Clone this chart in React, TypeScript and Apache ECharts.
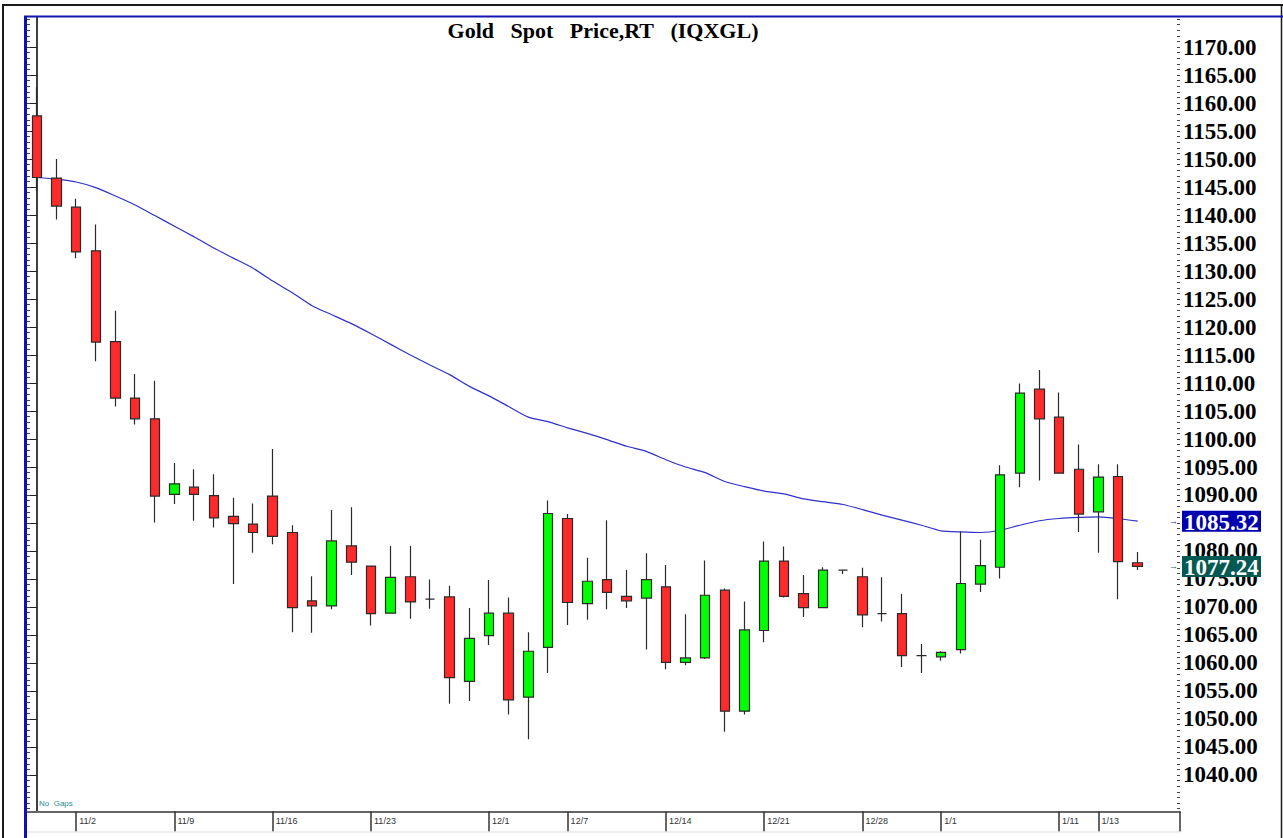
import React, { useEffect, useRef } from "react";
import * as echarts from "echarts";

// Trading days (no gaps), 2015-10-29 .. 2016-01-15
const dates = [
  "10/29", "10/30", "11/2", "11/3", "11/4", "11/5", "11/6", "11/9", "11/10", "11/11",
  "11/12", "11/13", "11/16", "11/17", "11/18", "11/19", "11/20", "11/23", "11/24", "11/25",
  "11/26", "11/27", "11/30", "12/1", "12/2", "12/3", "12/4", "12/7", "12/8", "12/9",
  "12/10", "12/11", "12/14", "12/15", "12/16", "12/17", "12/18", "12/21", "12/22", "12/23",
  "12/24", "12/25", "12/28", "12/29", "12/30", "12/31", "1/1", "1/4", "1/5", "1/6",
  "1/7", "1/8", "1/11", "1/12", "1/13", "1/14", "1/15",
];

const opens = [
  1157.7, 1146.6, 1141.4, 1133.6, 1117.4, 1107.3, 1103.6, 1090.1, 1091.4, 1089.9,
  1086.2, 1084.8, 1089.8, 1083.3, 1071.1, 1070.2, 1080.9, 1077.3, 1068.9, 1075.4,
  1071.4, 1071.8, 1056.7, 1064.9, 1068.9, 1053.9, 1062.8, 1085.8, 1070.6, 1074.9,
  1071.9, 1071.6, 1073.6, 1060.1, 1060.9, 1073.0, 1051.4, 1065.8, 1078.2, 1072.4,
  1069.9, 1076.6, 1075.4, 1068.8, 1068.8, 1061.3, 1061.1, 1062.4, 1074.1, 1077.1,
  1093.9, 1108.9, 1103.9, 1094.6, 1087.0, 1093.3, 1077.9,
];

const closes = [
  1146.7, 1141.6, 1133.4, 1117.3, 1107.3, 1103.6, 1089.8, 1092.0, 1090.1, 1085.9,
  1084.9, 1083.3, 1082.6, 1069.9, 1070.2, 1081.8, 1078.0, 1068.8, 1075.3, 1070.9,
  1071.4, 1057.4, 1064.4, 1068.9, 1053.4, 1062.1, 1086.7, 1070.8, 1074.6, 1072.6,
  1071.1, 1074.9, 1060.1, 1060.9, 1072.1, 1051.4, 1065.9, 1078.2, 1071.9, 1069.9,
  1076.6, 1076.6, 1068.6, 1068.8, 1061.3, 1061.3, 1061.9, 1074.2, 1077.4, 1093.6,
  1108.2, 1103.6, 1093.9, 1086.6, 1093.2, 1078.1, 1077.24,
];

const lows = [
  1144.3, 1139.2, 1132.3, 1113.9, 1105.8, 1102.6, 1085.1, 1088.4, 1085.4, 1084.2,
  1074.1, 1079.7, 1081.2, 1065.5, 1065.4, 1069.6, 1075.7, 1066.7, 1068.8, 1067.9,
  1069.7, 1052.7, 1053.2, 1063.2, 1050.8, 1046.4, 1058.2, 1066.8, 1067.7, 1069.6,
  1069.8, 1062.4, 1058.9, 1059.6, 1060.7, 1047.7, 1050.8, 1063.7, 1071.7, 1068.2,
  1069.9, 1075.9, 1066.4, 1067.4, 1059.3, 1058.2, 1060.4, 1061.7, 1072.7, 1075.1,
  1091.4, 1092.6, 1093.9, 1083.4, 1079.7, 1071.4, 1076.6,
];

const highs = [
  1162.8, 1150.0, 1142.9, 1138.3, 1122.9, 1111.6, 1110.4, 1095.7, 1094.6, 1093.7,
  1089.5, 1088.5, 1098.2, 1084.6, 1075.5, 1087.3, 1087.8, 1077.4, 1080.9, 1080.9,
  1074.9, 1073.8, 1069.8, 1074.8, 1071.7, 1065.5, 1089.0, 1086.6, 1078.8, 1085.5,
  1076.6, 1079.6, 1077.5, 1068.7, 1078.3, 1073.3, 1071.0, 1081.7, 1080.8, 1075.7,
  1077.1, 1076.7, 1077.0, 1075.3, 1072.3, 1063.4, 1062.1, 1083.5, 1082.0, 1095.3,
  1109.9, 1112.3, 1108.3, 1099.0, 1095.5, 1095.5, 1079.8,
];

const maValues = [
  1146.7, 1146.4, 1145.9, 1144.9, 1143.4, 1141.8, 1139.9, 1138.0, 1136.1, 1134.1,
  1132.3, 1130.5, 1128.2, 1126.1, 1123.8, 1122.2, 1120.6, 1118.8, 1116.9, 1115.0,
  1113.2, 1111.5, 1109.4, 1107.7, 1105.8, 1103.9, 1103.1, 1102.0, 1101.0, 1099.9,
  1098.7, 1097.8, 1096.3, 1095.0, 1094.0, 1092.4, 1091.5, 1090.7, 1090.2, 1089.3,
  1088.8, 1088.3, 1087.4, 1086.4, 1085.5, 1084.6, 1083.6, 1083.4, 1083.3, 1083.7,
  1084.6, 1085.4, 1085.8, 1086.0, 1086.1, 1085.8, 1085.32,
];

const tickDates = ["11/2", "11/9", "11/16", "11/23", "12/1", "12/7", "12/14", "12/21", "12/28", "1/1", "1/11", "1/13"];

const yLabels = [
  1040, 1045, 1050, 1055, 1060, 1065, 1070, 1075, 1080, 1085, 1090, 1095, 1100, 1105,
  1110, 1115, 1120, 1125, 1130, 1135, 1140, 1145, 1150, 1155, 1160, 1165, 1170,
];

const Y_MIN = 1033.48;
const Y_MAX = 1175.36;
const X_MIN = -0.5;
const X_MAX = 58.15;

export default function App() {
  const ref = useRef<HTMLDivElement>(null);

  useEffect(() => {
    document.body.style.margin = "0";
    const chart = echarts.init(ref.current as HTMLDivElement, null, { renderer: "svg" });

    const minorTicks: number[] = [];
    for (let v = Math.ceil(Y_MIN); v <= Math.floor(Y_MAX); v++) minorTicks.push(v);
    const tickIdx = tickDates.map((d) => dates.indexOf(d));

    const candleData = dates.map((_, i) => [i, opens[i], closes[i], lows[i], highs[i]]);
    const maData = dates.map((_, i) => [i, maValues[i]]);

    const yBase = { type: "value", min: Y_MIN, max: Y_MAX, splitLine: { show: false } };

    const option: any = {
      animation: false,
      backgroundColor: "#ffffff",
      grid: { left: 27, right: 103, top: 17, bottom: 26.5, containLabel: false },
      xAxis: {
        type: "value",
        min: X_MIN,
        max: X_MAX,
        splitLine: { show: false },
        axisLine: { show: true, lineStyle: { color: "#666", width: 2 } },
        axisTick: {
          show: true,
          customValues: tickIdx,
          length: 20,
          lineStyle: { color: "#333", width: 1.5 },
        },
        axisLabel: {
          show: true,
          customValues: tickIdx,
          formatter: (v: number) => dates[Math.round(v)] ?? "",
          align: "left",
          margin: 5,
          padding: [0, 0, 0, 3],
          fontSize: 9,
          fontFamily: "Liberation Sans, Arial, sans-serif",
          color: "#333",
        },
      },
      yAxis: [
        {
          ...yBase,
          position: "right",
          axisLine: { show: true, lineStyle: { color: "#000", width: 1.5 } },
          axisTick: { show: true, inside: true, length: 5, customValues: yLabels, lineStyle: { color: "#222" } },
          axisLabel: {
            show: true,
            customValues: yLabels,
            formatter: (v: number) => v.toFixed(2),
            margin: 3,
            fontSize: 23,
            fontWeight: "bold",
            fontFamily: "Liberation Serif, Times New Roman, serif",
            color: "#000",
          },
        },
        {
          ...yBase,
          position: "right",
          axisLine: { show: false },
          axisTick: { show: true, inside: true, length: 3, customValues: minorTicks, lineStyle: { color: "#444" } },
          axisLabel: { show: false },
        },
        {
          ...yBase,
          position: "left",
          axisLine: { show: false },
          axisTick: { show: true, inside: true, length: 5, customValues: yLabels, lineStyle: { color: "#222" } },
          axisLabel: { show: false },
        },
        {
          ...yBase,
          position: "left",
          axisLine: { show: false },
          axisTick: { show: true, inside: true, length: 3, customValues: minorTicks, lineStyle: { color: "#444" } },
          axisLabel: { show: false },
        },
      ],
      series: [
        {
          type: "line",
          name: "MA",
          data: maData,
          xAxisIndex: 0,
          yAxisIndex: 0,
          showSymbol: false,
          symbol: "none",
          smooth: 0.2,
          lineStyle: { color: "#3030cc", width: 1.2 },
          z: 3,
        },
        {
          type: "candlestick",
          name: "Gold",
          data: candleData,
          encode: { x: 0, y: [1, 2, 3, 4] },
          xAxisIndex: 0,
          yAxisIndex: 0,
          barWidth: 10,
          itemStyle: {
            color: "#00ff00",
            color0: "#ff2a2a",
            borderColor: "#2a2a2a",
            borderColor0: "#2a2a2a",
            borderColorDoji: "#2a2a2a",
            borderWidth: 1.2,
          },
          z: 4,
        },
      ],
      graphic: [],
    };

    chart.setOption(option);

    const last = dates.length - 1;
    const yMa = chart.convertToPixel({ yAxisIndex: 0 }, maValues[last]) as number;
    const yCl = chart.convertToPixel({ yAxisIndex: 0 }, closes[last]) as number;
    const xRight = chart.convertToPixel({ xAxisIndex: 0 }, X_MAX) as number;
    const xLeft = chart.convertToPixel({ xAxisIndex: 0 }, X_MIN) as number;
    const yBottom = chart.convertToPixel({ yAxisIndex: 0 }, Y_MIN) as number;
    const yTop = chart.convertToPixel({ yAxisIndex: 0 }, Y_MAX) as number;

    const badge = (y: number, text: string, bg: string, arrowColor: string) => [
      {
        type: "text",
        x: xRight - 11,
        y: y,
        style: { text: "→", fill: arrowColor, font: "bold 9px Liberation Sans, sans-serif", verticalAlign: "middle", align: "left" },
        z: 20,
      },
      {
        type: "rect",
        shape: { x: xRight + 2, y: y - 10.5, width: 79, height: 21 },
        style: { fill: bg },
        z: 20,
      },
      {
        type: "text",
        x: xRight + 4,
        y: y + 1,
        style: {
          text,
          fill: "#ffffff",
          font: "bold 23px Liberation Serif, Times New Roman, serif",
          verticalAlign: "middle",
          align: "left",
        },
        z: 21,
      },
    ];

    chart.setOption({
      graphic: [
        {
          type: "line",
          shape: { x1: 2, y1: 5, x2: 1283, y2: 5 },
          style: { stroke: "#1a1a1a", lineWidth: 2 },
          z: 10,
        },
        {
          type: "line",
          shape: { x1: 3, y1: 4, x2: 3, y2: 838 },
          style: { stroke: "#1a1a1a", lineWidth: 2 },
          z: 10,
        },
        {
          type: "line",
          shape: { x1: 1281.5, y1: 4, x2: 1281.5, y2: 838 },
          style: { stroke: "#1a1a1a", lineWidth: 1.5 },
          z: 10,
        },
        {
          type: "line",
          shape: { x1: 24, y1: yTop - 0.5, x2: 1283, y2: yTop - 0.5 },
          style: { stroke: "#1515b0", lineWidth: 2 },
          z: 10,
        },
        {
          type: "line",
          shape: { x1: 25.5, y1: yTop - 1, x2: 25.5, y2: 838 },
          style: { stroke: "#1010b8", lineWidth: 3 },
          z: 10,
        },
        {
          type: "line",
          shape: { x1: xRight, y1: yBottom, x2: xRight, y2: yBottom + 20 },
          style: { stroke: "#333", lineWidth: 1.5 },
          z: 10,
        },
        {
          type: "line",
          shape: { x1: xLeft, y1: yBottom + 20.5, x2: xRight, y2: yBottom + 20.5 },
          style: { stroke: "#dddddd", lineWidth: 1 },
          z: 10,
        },
        {
          type: "text",
          x: 39,
          y: yBottom - 8,
          style: {
            text: "No  Gaps",
            fill: "#2b8a9a",
            font: "8px Liberation Sans, Arial, sans-serif",
            verticalAlign: "middle",
            align: "left",
          },
          z: 10,
        },
        {
          type: "text",
          x: 603,
          y: 30,
          style: {
            text: "Gold\u00a0\u00a0\u00a0Spot\u00a0\u00a0\u00a0Price,RT\u00a0\u00a0\u00a0(IQXGL)",
            fill: "#000",
            font: "bold 22px Liberation Serif, Times New Roman, serif",
            verticalAlign: "middle",
            align: "center",
          },
          z: 10,
        },
        ...badge(yMa, maValues[last].toFixed(2), "#0000b0", "#2020c0"),
        ...badge(yCl, closes[last].toFixed(2), "#045a52", "#1a6a60"),
      ],
    });

    return () => chart.dispose();
  }, []);

  return <div ref={ref} style={{ width: 1283, height: 838 }} />;
}
